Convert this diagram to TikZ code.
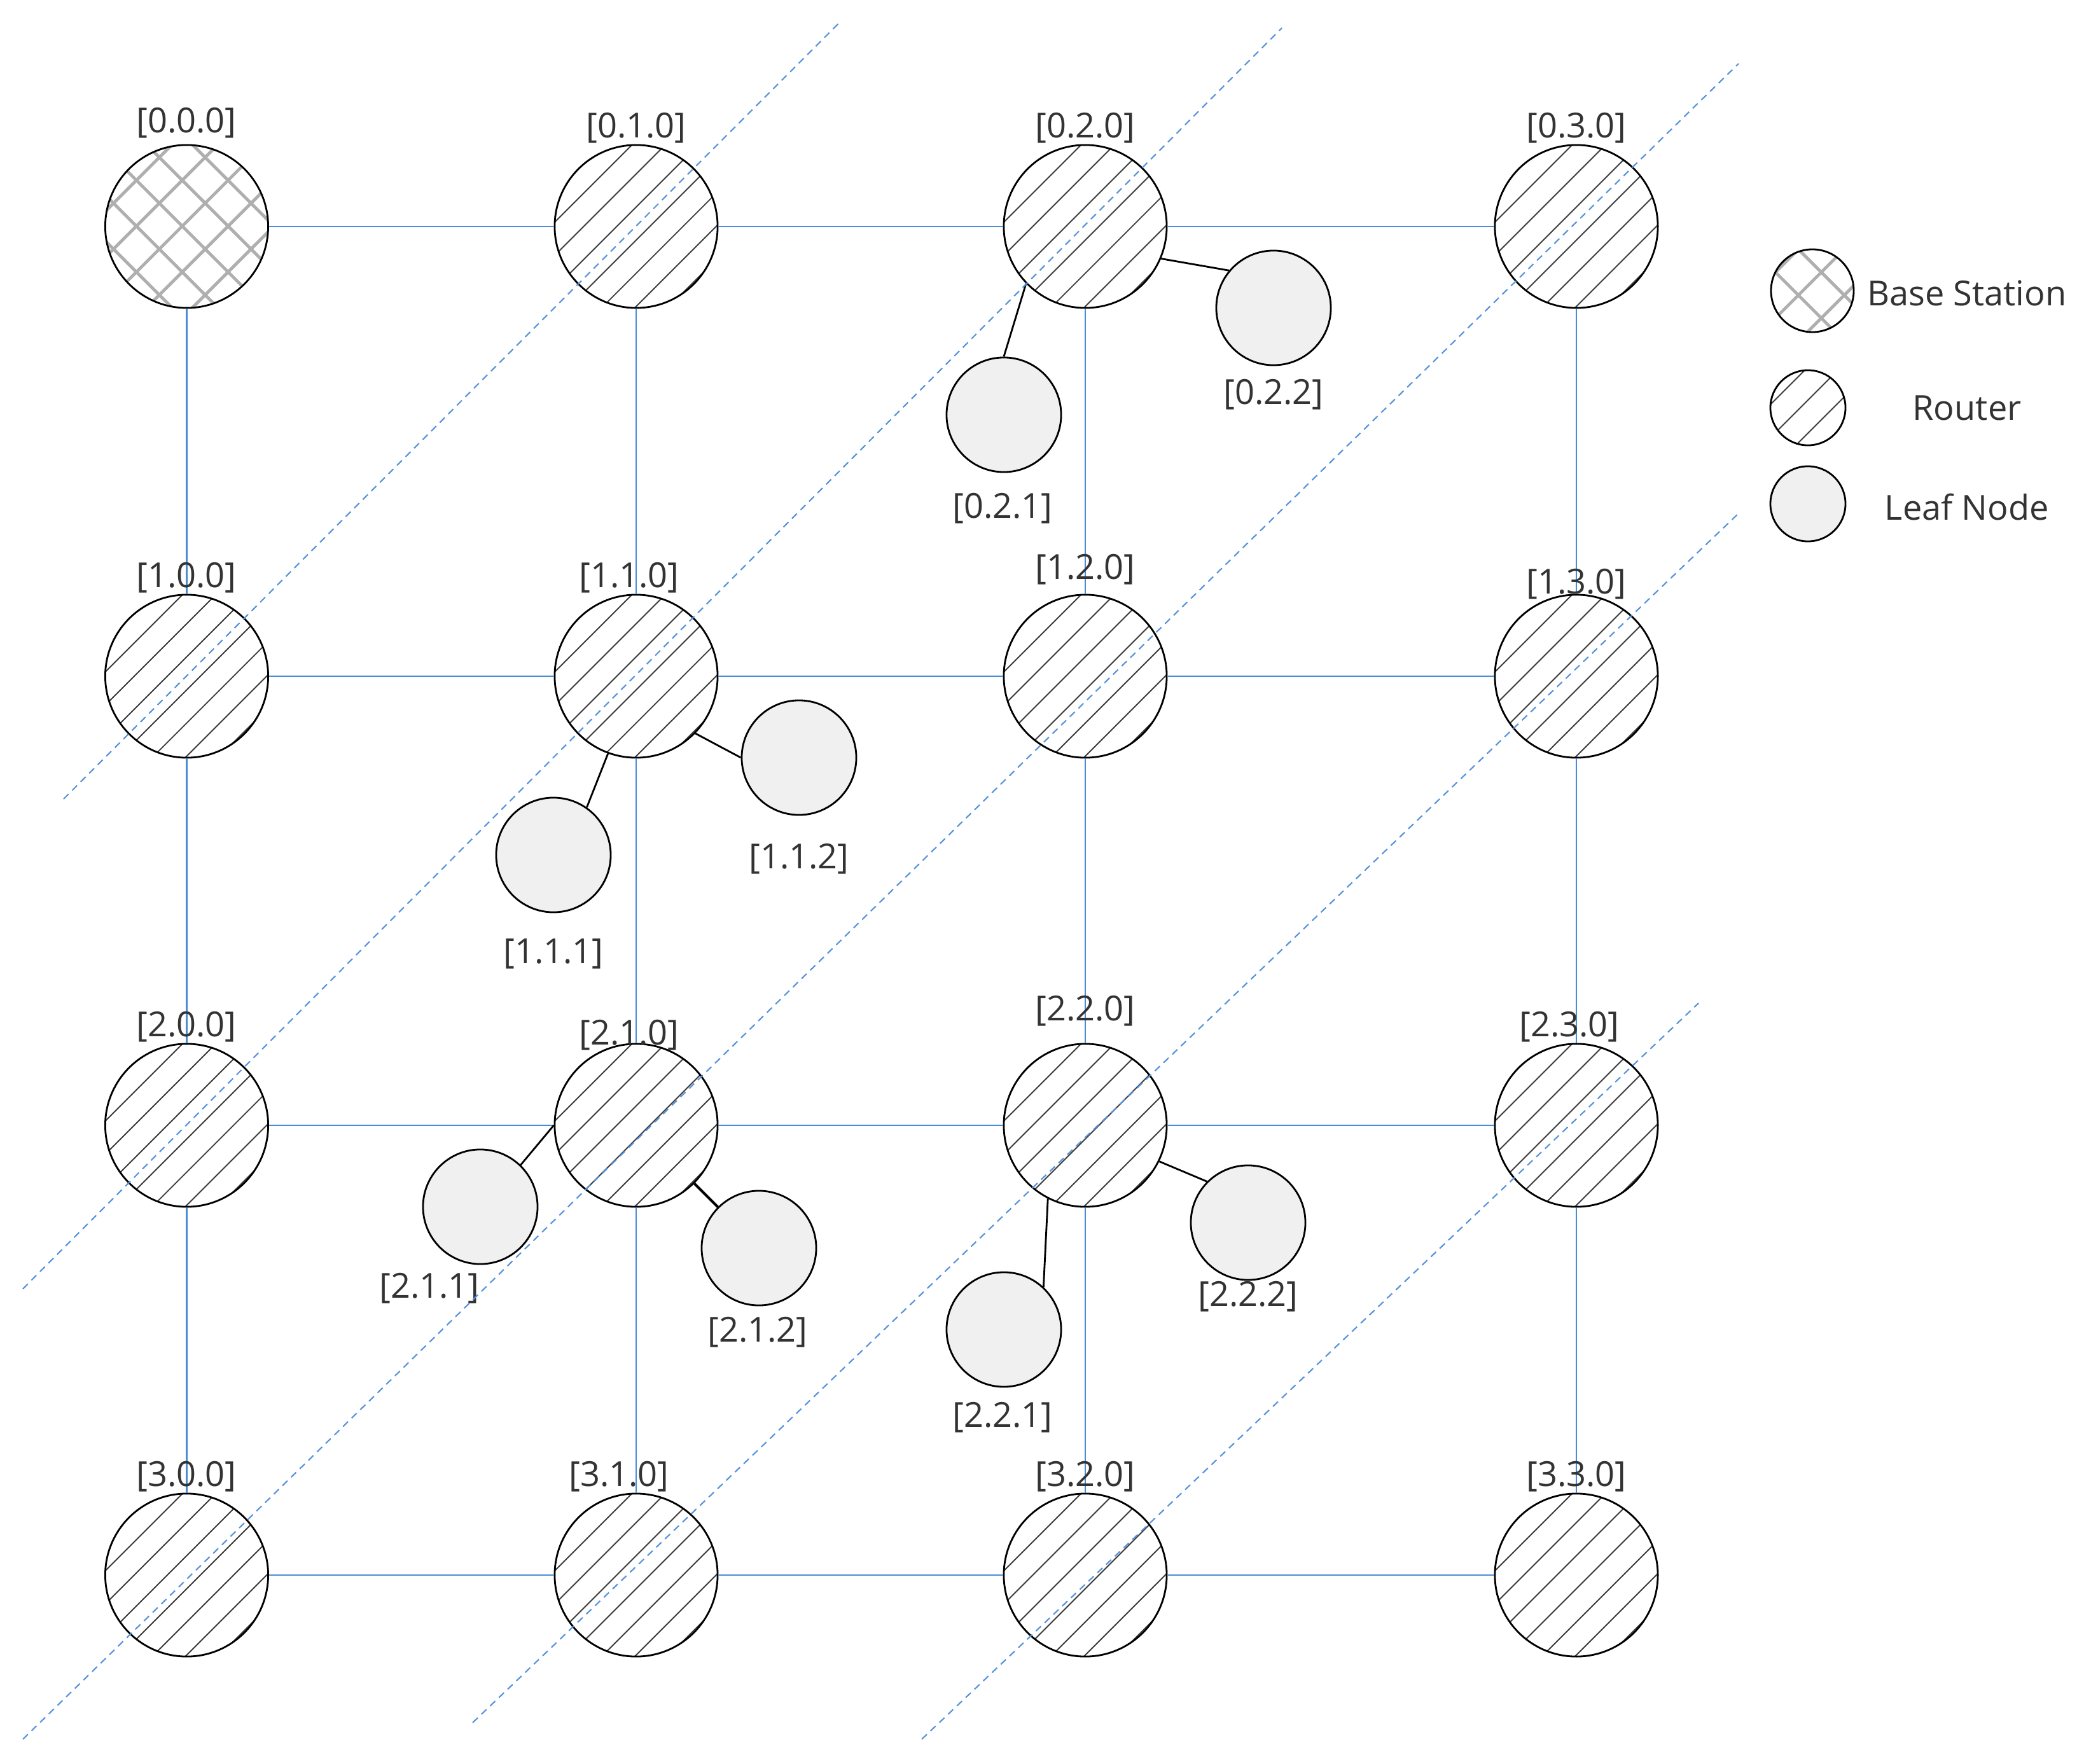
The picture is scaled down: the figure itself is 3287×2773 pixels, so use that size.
\documentclass[tikz,border=0pt]{standalone}
\usepackage{fontspec}
\setmainfont{Open Sans}
\definecolor{gridblue}{RGB}{74,141,214}
\definecolor{dashblue}{RGB}{84,146,220}
\definecolor{leafgray}{RGB}{240,240,240}
\definecolor{txt}{RGB}{51,51,51}
\definecolor{hatchgray}{RGB}{60,60,60}
\definecolor{crossgray}{RGB}{175,175,175}
\begin{document}
\begin{tikzpicture}[x=0.01cm,y=-0.01cm,
  font=\fontsize{15.4pt}{18pt}\selectfont,
  hatchln/.style={draw=hatchgray, line width=0.55pt},
  crossln/.style={draw=crossgray, line width=1.4pt},
  hatchfill/.style={path picture={\foreach \k in {-4,...,4}{\draw[hatchln] ([xshift={(#1+52*(\k))*0.005cm},yshift={-(#1+52*(\k))*0.005cm}]path picture bounding box.center) ++(-3cm,-3cm) -- ++(6cm,6cm);}}},
  crossfill/.style 2 args={path picture={\foreach \k in {-4,...,4}{\draw[crossln] ([xshift={(#1+72*(\k))*0.005cm},yshift={-(#1+72*(\k))*0.005cm}]path picture bounding box.center) ++(-3cm,-3cm) -- ++(6cm,6cm); \draw[crossln] ([xshift={(#2+72*(\k))*0.005cm},yshift={(#2+72*(\k))*0.005cm}]path picture bounding box.center) ++(-3cm,3cm) -- ++(6cm,-6cm);}}},
  roundshape/.style={circle, draw=black, line width=0.8pt, fill=white, inner sep=0pt, minimum size=2.56cm},
  router/.style={roundshape, hatchfill=21.5},
  basest/.style={roundshape, crossfill={-7.5}{-6.5}},
  leaf/.style={circle, draw=black, line width=0.8pt, fill=leafgray, inner sep=0pt, minimum size=1.8cm},
  lbl/.style={inner sep=0pt, text=txt},
  gridln/.style={draw=gridblue, line width=0.75pt},
  conn/.style={draw=black, line width=0.8pt},
  dashln/.style={draw=dashblue, line width=0.6pt, dash pattern=on 0.11cm off 0.08cm}
]
\useasboundingbox[fill=white] (0,0) rectangle (3287,2773);

% routers and base station
\node[basest] (r00) at (293.5,356) {};
\node[router] (r01) at (1000,356) {};
\node[router] (r02) at (1706,356) {};
\node[router] (r03) at (2478,356) {};
\node[router] (r10) at (293.5,1063) {};
\node[router] (r11) at (1000,1063) {};
\node[router] (r12) at (1706,1063) {};
\node[router] (r13) at (2478,1063) {};
\node[router] (r20) at (293.5,1769) {};
\node[router] (r21) at (1000,1769) {};
\node[router] (r22) at (1706,1769) {};
\node[router] (r23) at (2478,1769) {};
\node[router] (r30) at (293.5,2476) {};
\node[router] (r31) at (1000,2476) {};
\node[router] (r32) at (1706,2476) {};
\node[router] (r33) at (2478,2476) {};

% grid links
\foreach \r in {0,...,3}{
  \foreach \a/\b in {0/1,1/2,2/3}{
    \draw[gridln] (r\r\a) -- (r\r\b);
    \draw[gridln] (r\a\r) -- (r\b\r);
  }
}

% leaf nodes
\node[leaf] (l021) at (1578,652) {};
\node[leaf] (l022) at (2002,484) {};
\node[leaf] (l111) at (870,1344) {};
\node[leaf] (l112) at (1256,1191) {};
\node[leaf] (l211) at (755,1897) {};
\node[leaf] (l212) at (1193,1962) {};
\node[leaf] (l221) at (1578,2090) {};
\node[leaf] (l222) at (1962,1922) {};

% leaf connectors
\draw[conn] (r02.224) -- (l021.90);
\draw[conn] (r02.-23) -- (l022.140);
\draw[conn] (r11.-44) -- (l112.180);
\draw[conn] (r11.-110) -- (l111.55);
\draw[conn] (r21.180) -- (l211.46);
\draw[conn, line width=1.2pt] (r21.-45) -- (l212.135);
\draw[conn] (r22.-26) -- (l222.135);
\draw[conn] (r22.-117) -- (l221.47);

% router labels
\node[lbl] (t000) at (293,193) {[0.0.0]};
\node[lbl] (t010) at (1000,201) {[0.1.0]};
\node[lbl] (t020) at (1706,201) {[0.2.0]};
\node[lbl] (t030) at (2478,201) {[0.3.0]};
\node[lbl] (t100) at (293,908) {[1.0.0]};
\node[lbl] (t110) at (989,908) {[1.1.0]};
\node[lbl] (t120) at (1706,895) {[1.2.0]};
\node[lbl] (t130) at (2478,918) {[1.3.0]};
\node[lbl] (t200) at (293,1614) {[2.0.0]};
\node[lbl] (t210) at (989,1627) {[2.1.0]};
\node[lbl] (t220) at (1706,1589) {[2.2.0]};
\node[lbl] (t230) at (2467,1614) {[2.3.0]};
\node[lbl] (t300) at (293,2321) {[3.0.0]};
\node[lbl] (t310) at (973,2321) {[3.1.0]};
\node[lbl] (t320) at (1706,2321) {[3.2.0]};
\node[lbl] (t330) at (2478,2321) {[3.3.0]};

% leaf labels
\node[lbl] (t021) at (1576,799) {[0.2.1]};
\node[lbl] (t022) at (2002,620) {[0.2.2]};
\node[lbl] (t111) at (870,1499) {[1.1.1]};
\node[lbl] (t112) at (1256,1350) {[1.1.2]};
\node[lbl] (t211) at (675,2025) {[2.1.1]};
\node[lbl] (t212) at (1191,2094) {[2.1.2]};
\node[lbl] (t221) at (1576,2228) {[2.2.1]};
\node[lbl] (t222) at (1962,2038) {[2.2.2]};

% legend
\node[roundshape, minimum size=1.3cm, crossfill={-15}{-29}] (lgb) at (2849,457) {};
\node[roundshape, minimum size=1.18cm, hatchfill=-12] (lgr) at (2842,641) {};
\node[leaf, minimum size=1.18cm] (lgl) at (2842,792) {};
\node[lbl] (lgbt) at (3092,461) {Base Station};
\node[lbl] (lgrt) at (3092,641) {Router};
\node[lbl] (lglt) at (3092,797) {Leaf Node};

% dashed diagonals
\coordinate (d1a) at (100,1256);  \coordinate (d1b) at (1322,33);
\coordinate (d2a) at (36,2026);   \coordinate (d2b) at (2015,44);
\coordinate (d3a) at (36,2734);   \coordinate (d3b) at (2733,100);
\coordinate (d4a) at (743,2708);  \coordinate (d4b) at (2732,808);
\coordinate (d5a) at (1449,2734); \coordinate (d5b) at (2670,1577);
\draw[dashln] (d1a) -- (d1b);
\draw[dashln] (d2a) -- (d2b);
\draw[dashln] (d3a) -- (d3b);
\draw[dashln] (d4a) -- (d4b);
\draw[dashln] (d5a) -- (d5b);
\end{tikzpicture}
\end{document}
